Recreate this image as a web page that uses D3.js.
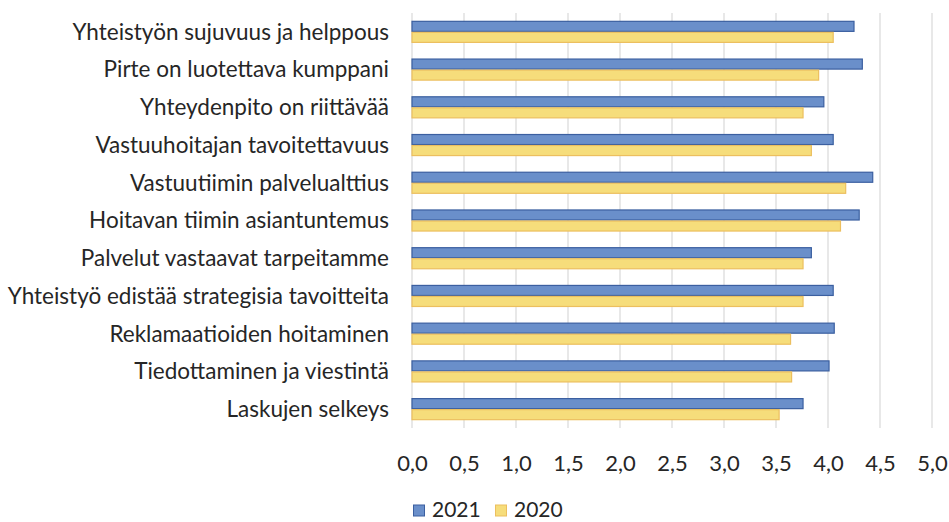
<!DOCTYPE html>
<html><head><meta charset="utf-8">
<script src="https://cdn.jsdelivr.net/npm/d3@7/dist/d3.min.js"></script>
<style>body{margin:0;background:#fff}svg{display:block}</style>
</head><body><svg id="c" width="949" height="522"></svg>
<script>
const categories = [
  "Yhteistyön sujuvuus ja helppous",
  "Pirte on luotettava kumppani",
  "Yhteydenpito on riittävää",
  "Vastuuhoitajan tavoitettavuus",
  "Vastuutiimin palvelualttius",
  "Hoitavan tiimin asiantuntemus",
  "Palvelut vastaavat tarpeitamme",
  "Yhteistyö edistää strategisia tavoitteita",
  "Reklamaatioiden hoitaminen",
  "Tiedottaminen ja viestintä",
  "Laskujen selkeys"
];
const values2021 = [4.25, 4.33, 3.96, 4.05, 4.43, 4.30, 3.84, 4.05, 4.06, 4.01, 3.76];
const values2020 = [4.05, 3.91, 3.76, 3.84, 4.17, 4.12, 3.76, 3.76, 3.64, 3.65, 3.53];
const seriesNames = ["2021", "2020"];
const tickValues = [0, 0.5, 1, 1.5, 2, 2.5, 3, 3.5, 4, 4.5, 5];

(function () {
const svg = d3.select("#c");
const font = "Lato, 'Open Sans', sans-serif";
const fs = 22.5;
const pL = 412, pR = 932, pT = 13, pB = 428;
const x = d3.scaleLinear().domain([0, 5]).range([pL, pR]);
const y = d3.scaleBand().domain(categories).range([pT, pB]).paddingInner(0.415).paddingOuter(0.2075);
const sub = d3.scaleBand().domain(seriesNames).range([0, y.bandwidth()]);

svg.append("g").selectAll("line").data(tickValues).join("line")
  .attr("x1", d => x(d)).attr("x2", d => x(d))
  .attr("y1", pT).attr("y2", pB)
  .attr("stroke", "#d9d9d9").attr("stroke-width", 1.2);

const colors = {"2021": {fill: "#6a8fca", stroke: "#3b5fa0"}, "2020": {fill: "#f6dd7b", stroke: "#ecbf5f"}};
const data = [];
categories.forEach((c, i) => {
  data.push({c, s: "2021", v: values2021[i]});
  data.push({c, s: "2020", v: values2020[i]});
});
svg.append("g").selectAll("rect").data(data).join("rect")
  .attr("x", x(0))
  .attr("y", d => y(d.c) + sub(d.s) + 0.5)
  .attr("width", d => x(d.v) - x(0))
  .attr("height", sub.bandwidth() - 1)
  .attr("fill", d => colors[d.s].fill)
  .attr("stroke", d => colors[d.s].stroke)
  .attr("stroke-width", 1.2);

svg.append("g").selectAll("text").data(categories).join("text")
  .attr("x", 389).attr("y", d => y(d) + y.bandwidth() / 2)
  .attr("dy", "0.35em").attr("text-anchor", "end")
  .attr("font-family", font).attr("font-size", fs).attr("fill", "#262626")
  .text(d => d);

const xAxis = d3.axisBottom(x).tickValues(tickValues).tickSize(0).tickPadding(0)
  .tickFormat(d => d3.format(".1f")(d).replace(".", ","));
const ax = svg.append("g").attr("transform", `translate(0,${pB + 43})`).call(xAxis);
ax.select(".domain").remove();
ax.selectAll("text").attr("font-family", font).attr("font-size", 22).attr("fill", "#262626")
  .attr("dy", "0");

const leg = svg.append("g").attr("transform", "translate(413,510)");
const legX = [0, 82];
seriesNames.forEach((s, i) => {
  const g = leg.append("g").attr("transform", `translate(${legX[i]},0)`);
  g.append("rect").attr("x", 0.5).attr("y", -5).attr("width", 11).attr("height", 11)
    .attr("fill", colors[s].fill).attr("stroke", colors[s].stroke);
  g.append("text").attr("x", 19).attr("y", 0).attr("dy", "0.35em")
    .attr("font-family", font).attr("font-size", 21).attr("fill", "#262626").text(s);
});
})();
</script></body></html>
